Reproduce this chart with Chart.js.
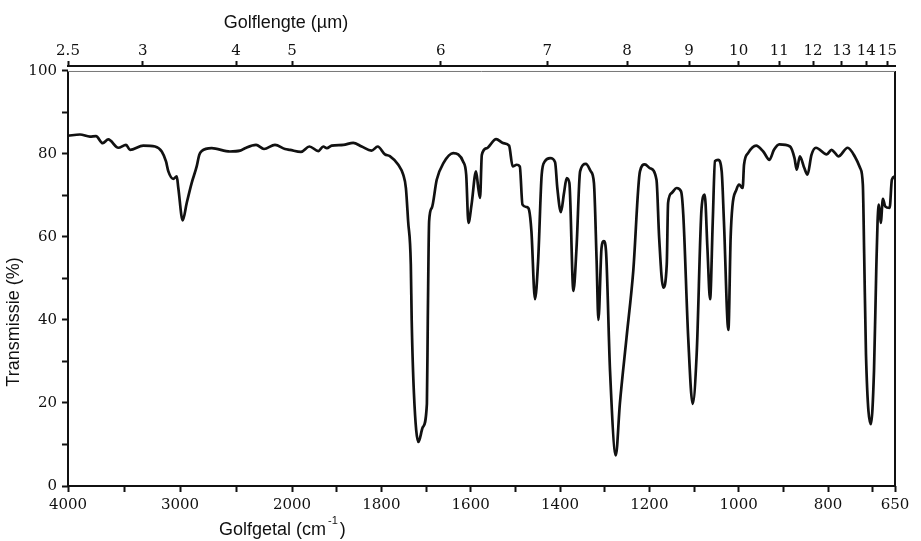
<!DOCTYPE html>
<html>
<head>
<meta charset="utf-8">
<script src="https://cdn.jsdelivr.net/npm/chart.js@4.4.1/dist/chart.umd.min.js"></script>
<style>
  html, body { margin: 0; padding: 0; background: #fff; }
</style>
</head>
<body>
<canvas id="irSpectrum" width="921" height="541"></canvas>
<script>
// spectrum: wavenumber (cm-1) and transmission (%)
const wavenumbers = [4000, 3893, 3804, 3750, 3690, 3640, 3551, 3482, 3446, 3328, 3223, 3163, 3125, 3104, 3060, 3029, 3015, 2976, 2940, 2896,
  2851, 2828, 2806, 2717, 2554, 2464, 2420, 2321, 2250, 2152, 2062, 2018, 1980, 1961, 1941, 1930, 1922, 1911, 1885, 1863,
  1844, 1822, 1808, 1792, 1781, 1762, 1751, 1745, 1740, 1734, 1732, 1727, 1717, 1707, 1698, 1696, 1693, 1687, 1676, 1661,
  1639, 1628, 1617, 1610, 1605, 1598, 1588, 1583, 1579, 1575, 1564, 1543, 1527, 1514, 1506, 1497, 1490, 1484, 1474, 1469,
  1464, 1456, 1449, 1441, 1434, 1422, 1411, 1406, 1398, 1391, 1385, 1379, 1370, 1363, 1355, 1342, 1331, 1324, 1318, 1314,
  1307, 1302, 1297, 1288, 1275, 1266, 1251, 1236, 1221, 1210, 1199, 1184, 1178, 1169, 1161, 1158, 1150, 1139, 1129, 1124,
  1113, 1103, 1094, 1083, 1076, 1070, 1064, 1058, 1053, 1046, 1038, 1033, 1023, 1018, 1014, 1005, 999, 991, 988, 979,
  961, 945, 931, 921, 909, 885, 875, 870, 863, 853, 846, 837, 827, 803, 792, 784, 777, 756, 740, 728,
  722, 719, 715, 704, 697, 692, 689, 686, 682, 677, 672, 662, 657, 650];
const transmission = [84.4, 84.7, 84.2, 84.3, 82.6, 83.5, 81.5, 82.2, 81.0, 82.0, 81.8, 80.6, 78.2, 75.8, 74.0, 74.6, 71.8, 64.0, 68.2, 73.0,
  77.0, 79.8, 80.7, 81.4, 80.6, 80.8, 81.4, 82.2, 81.2, 82.2, 81.2, 81.0, 80.5, 81.8, 80.7, 81.8, 81.4, 82.0, 82.2, 82.7,
  81.8, 80.8, 81.8, 79.9, 79.5, 77.4, 75.0, 71.8, 63.8, 53.4, 39.8, 22.3, 10.6, 14.2, 19.8, 39.8, 63.8, 67.0, 73.8, 77.8,
  80.2, 79.9, 78.2, 75.0, 63.4, 67.8, 75.8, 71.8, 69.4, 79.8, 81.4, 83.6, 82.6, 82.0, 77.0, 77.4, 77.0, 67.8, 67.2, 66.4,
  61.4, 45.0, 54.2, 75.0, 78.2, 79.0, 78.0, 71.8, 66.0, 70.6, 74.2, 73.0, 47.0, 57.4, 75.8, 77.6, 75.8, 73.0, 54.2, 40.0,
  57.4, 59.0, 56.6, 27.8, 7.4, 19.8, 35.8, 51.8, 75.8, 77.5, 76.6, 73.8, 59.8, 47.8, 53.4, 68.2, 70.6, 71.8, 71.0, 65.4,
  35.8, 19.8, 31.8, 67.0, 70.2, 57.4, 45.0, 63.8, 78.3, 78.6, 75.8, 63.8, 37.6, 59.8, 67.4, 71.4, 72.6, 71.8, 77.4, 80.2,
  82.0, 80.6, 78.6, 81.0, 82.3, 81.8, 79.0, 76.2, 79.4, 76.6, 75.0, 79.8, 81.5, 79.9, 81.0, 80.2, 79.4, 81.5, 79.4, 76.6,
  72.6, 55.8, 31.8, 14.9, 27.8, 51.8, 63.8, 67.8, 63.4, 69.2, 67.4, 67.0, 73.8, 74.6];

// bottom axis (wavenumber) ticks, '' = unlabelled tick
const bottomTicks = [4000, 3500, 3000, 2500, 2000, 1900, 1800, 1700, 1600, 1500, 1400, 1300, 1200, 1100, 1000, 900, 800, 700, 650];
const bottomTickLabels = ['4000', '', '3000', '', '2000', '', '1800', '', '1600', '', '1400', '', '1200', '', '1000', '', '800', '', '650'];

// top axis (wavelength, micrometre)
const topMicrons = [2.5, 3, 4, 5, 6, 7, 8, 9, 10, 11, 12, 13, 14, 15];
const topTickLabels = ['2.5', '3', '4', '5', '6', '7', '8', '9', '10', '11', '12', '13', '14', '15'];

const yTicks = [0, 10, 20, 30, 40, 50, 60, 70, 80, 90, 100];
const yTickLabels = ['0', '', '20', '', '40', '', '60', '', '80', '', '100'];

// the wavenumber axis changes scale at 2000 cm-1
const HIGH_SPAN = 224, LOW_SPAN = 603;
function wnToU(wn) {
  return wn >= 2000 ? (4000 - wn) / 2000 * HIGH_SPAN : HIGH_SPAN + (2000 - wn) / 1350 * LOW_SPAN;
}

const INK = '#111';
const tickFont = {family: 'DejaVu Serif', size: 15};

const frameAndTitles = {
  id: 'frameAndTitles',
  afterDraw(chart) {
    const {ctx, chartArea: a, scales: {y}} = chart;
    const top = y.getPixelForValue(100);
    ctx.save();
    ctx.strokeStyle = INK;
    ctx.lineWidth = 2;
    ctx.beginPath();
    ctx.moveTo(a.left, top);
    ctx.lineTo(a.left, a.bottom);
    ctx.lineTo(a.right, a.bottom);
    ctx.lineTo(a.right, top);
    ctx.stroke();
    ctx.lineWidth = 1;
    ctx.strokeStyle = '#777';
    ctx.beginPath();
    ctx.moveTo(a.left, top + 0.5);
    ctx.lineTo(a.right, top + 0.5);
    ctx.stroke();

    ctx.fillStyle = INK;
    ctx.font = '18px "Liberation Sans"';
    ctx.textAlign = 'center';
    ctx.textBaseline = 'alphabetic';
    ctx.fillText('Golflengte (\u00b5m)', 286, 28);

    ctx.textAlign = 'left';
    const x0 = 219, base = 535;
    ctx.fillText('Golfgetal (cm', x0, base);
    const w1 = ctx.measureText('Golfgetal (cm').width;
    ctx.font = '11px "Liberation Sans"';
    ctx.fillText('-1', x0 + w1 + 2, base - 11);
    const w2 = ctx.measureText('-1').width;
    ctx.font = '18px "Liberation Sans"';
    ctx.fillText(')', x0 + w1 + w2 + 4, base);

    ctx.translate(14, 322);
    ctx.rotate(-Math.PI / 2);
    ctx.textAlign = 'center';
    ctx.textBaseline = 'middle';
    ctx.fillText('Transmissie (%)', 0, 0);
    ctx.restore();
  }
};

new Chart(document.getElementById('irSpectrum'), {
  type: 'line',
  data: {
    datasets: [{
      data: wavenumbers.map((wn, i) => ({x: wnToU(wn), y: transmission[i]})),
      borderColor: INK,
      borderWidth: 2.7,
      pointRadius: 0,
      cubicInterpolationMode: 'monotone',
      fill: false
    }]
  },
  options: {
    responsive: false,
    animation: false,
    devicePixelRatio: 1,
    layout: {padding: {left: 0, right: 26, top: 0, bottom: 0}},
    plugins: {legend: {display: false}, tooltip: {enabled: false}},
    scales: {
      x: {
        type: 'linear', position: 'bottom', min: 0, max: HIGH_SPAN + LOW_SPAN,
        afterBuildTicks: s => { s.ticks = bottomTicks.map(wn => ({value: wnToU(wn)})); },
        afterFit: s => { s.height = 55; },
        ticks: {autoSkip: false, maxRotation: 0, padding: 4, color: INK, font: tickFont, callback: (v, i) => bottomTickLabels[i]},
        grid: {drawOnChartArea: false, tickLength: 6, tickWidth: 2, tickColor: INK},
        border: {display: false}
      },
      x2: {
        type: 'linear', position: 'top', min: 0, max: HIGH_SPAN + LOW_SPAN,
        afterBuildTicks: s => { s.ticks = topMicrons.map(um => ({value: wnToU(10000 / um)})); },
        afterFit: s => { s.height = 66; },
        ticks: {autoSkip: false, maxRotation: 0, padding: 1, color: INK, font: tickFont, callback: (v, i) => topTickLabels[i]},
        grid: {drawOnChartArea: false, tickLength: 5, tickWidth: 2, tickColor: INK},
        border: {display: true, width: 2, color: INK}
      },
      y: {
        min: 0, max: 101.2,
        afterBuildTicks: s => { s.ticks = yTicks.map(v => ({value: v})); },
        afterFit: s => { s.width = 68; },
        ticks: {autoSkip: false, padding: 5, color: INK, font: tickFont, callback: (v, i) => yTickLabels[i]},
        grid: {drawOnChartArea: false, tickLength: 6, tickWidth: 2, tickColor: INK},
        border: {display: false}
      }
    }
  },
  plugins: [frameAndTitles]
});
</script>
</body>
</html>
